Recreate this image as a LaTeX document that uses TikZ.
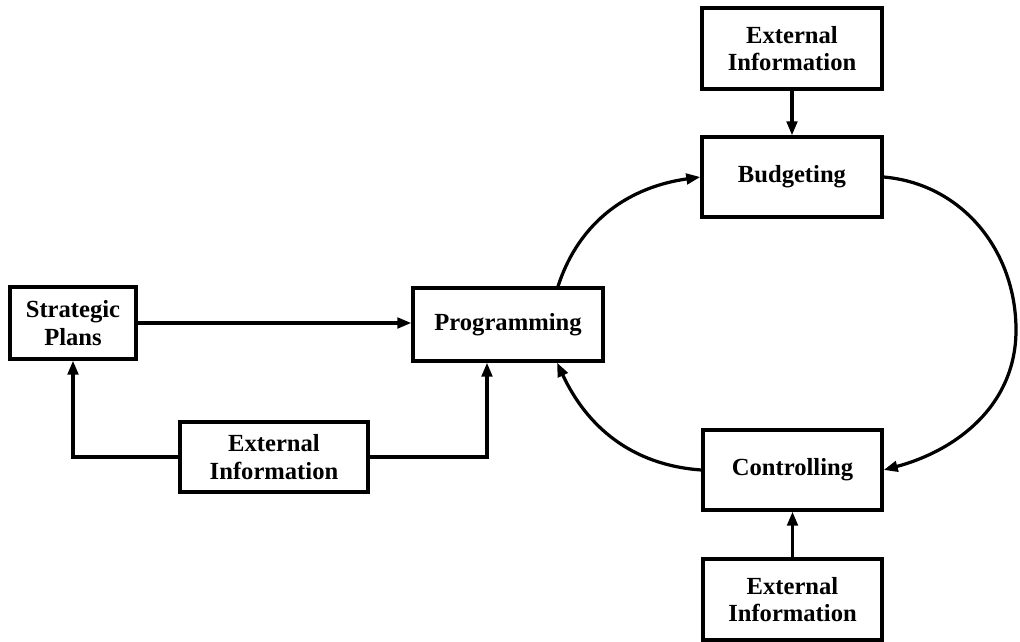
\documentclass[tikz,border=0pt]{standalone}
\usepackage{fontspec}
\setmainfont{Liberation Serif}
\usetikzlibrary{arrows.meta}
\begin{document}
\begin{tikzpicture}[x=0.025cm, y=-0.025cm,
  box/.style={draw, line width=2.3pt, inner sep=0pt, align=center,
    font=\fontsize{17.5}{19.5}\selectfont\bfseries},
  flow/.style={line width=2.3pt, -{Triangle[length=10pt,width=7.5pt]}}]
\useasboundingbox (0,0) rectangle (1020,642);

% planning boxes
\node[box, minimum width=3.15cm, minimum height=1.8cm] (strat) at (73,323) {Strategic\\Plans};
\node[box, minimum width=4.75cm, minimum height=1.825cm] (prog) at (508,324.5) {Programming};
\node[box, minimum width=4.7cm, minimum height=1.75cm] (extL) at (274,457) {External\\Information};
\node[box, minimum width=4.5cm, minimum height=2.025cm] (extT) at (792,48.5) {External\\Information};
\node[box, minimum width=4.5cm, minimum height=2cm] (bud) at (792,177) {Budgeting};
\node[box, minimum width=4.475cm, minimum height=2cm] (ctrl) at (792.5,470) {Controlling};
\node[box, minimum width=4.475cm, minimum height=2.025cm] (extB) at (792.5,599.5) {External\\Information};
\coordinate (rt) at (1016,330);

% straight connectors
\draw[flow] (strat.east) -- (strat.east -| prog.west);
\draw[flow] (extL.west) -| (strat.south);
\draw[flow] (extL.east) -| ([xshift=-0.525cm]prog.south);
\draw[flow] (extT.south) -- (bud.north);
\draw[flow] (extB.north) -- (ctrl.south);

% the budgeting cycle
\draw[flow] ([xshift=1.25cm]prog.north) to[out=72,in=188] (bud.west);
\draw[flow] (bud.east) to[out=-5,in=90] (rt) to[out=-90,in=15] (ctrl.east);
\draw[flow] (ctrl.west) to[out=176,in=-65] ([xshift=1.225cm]prog.south);
\end{tikzpicture}
\end{document}
